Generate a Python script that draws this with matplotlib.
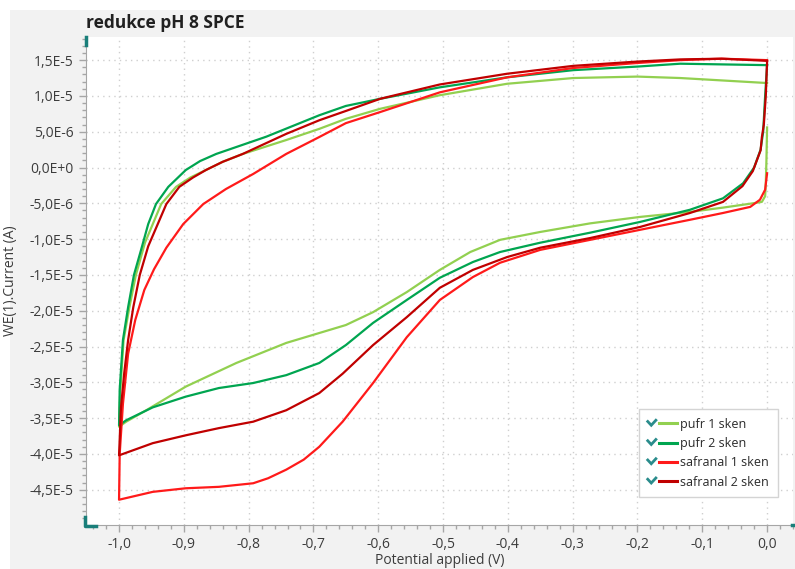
import numpy as np
import matplotlib
matplotlib.use("Agg")
import matplotlib.pyplot as plt
from matplotlib.ticker import MultipleLocator, FuncFormatter
from matplotlib.legend_handler import HandlerBase
from matplotlib.lines import Line2D
from matplotlib.patches import Rectangle

plt.rcParams['font.family'] = ['Open Sans', 'DejaVu Sans']

# cyclic voltammograms: cathodic branch 0 -> -1 V, then back -1 -> 0 V
pufr1_v = [0.0, -0.001, -0.002, -0.003, -0.008, -0.022, -0.068, -0.119, -0.196, -0.273,
           -0.350, -0.412, -0.458, -0.505, -0.556, -0.608, -0.650, -0.742, -0.819, -0.897,
           -0.958, -0.989, -1.0,
           -0.998, -0.993, -0.984, -0.974, -0.960, -0.935, -0.912, -0.890, -0.866, -0.840,
           -0.809, -0.742, -0.691, -0.650, -0.597, -0.505, -0.401, -0.299, -0.200, -0.134, 0.0]
pufr1_i = [5.6e-6, 1.0e-6, -2.2e-6, -4.0e-6, -4.8e-6, -5.0e-6, -5.6e-6, -6.2e-6, -6.9e-6, -7.8e-6,
           -9.0e-6, -1.01e-5, -1.18e-5, -1.43e-5, -1.74e-5, -2.02e-5, -2.2e-5, -2.45e-5, -2.73e-5, -3.06e-5,
           -3.39e-5, -3.55e-5, -3.62e-5,
           -3.1e-5, -2.41e-5, -1.95e-5, -1.5e-5, -1.05e-5, -5.1e-6, -2.7e-6, -1.4e-6, -0.35e-6, 0.8e-6,
           1.9e-6, 3.84e-6, 5.4e-6, 6.8e-6, 8.2e-6, 1.01e-5, 1.17e-5, 1.25e-5, 1.27e-5, 1.25e-5, 1.18e-5]

pufr2_v = [0.0, -0.003, -0.006, -0.010, -0.020, -0.037, -0.068, -0.119, -0.196, -0.273,
           -0.350, -0.412, -0.454, -0.505, -0.556, -0.608, -0.650, -0.691, -0.742, -0.793,
           -0.846, -0.897, -0.948, -0.989, -1.0,
           -0.999, -0.994, -0.986, -0.977, -0.966, -0.955, -0.943, -0.924, -0.897, -0.875,
           -0.850, -0.773, -0.691, -0.650, -0.597, -0.505, -0.401, -0.299, -0.200, -0.134, 0.0]
pufr2_i = [1.43e-5, 1.0e-5, 5.0e-6, 2.5e-6, 0.0, -2.2e-6, -4.3e-6, -5.9e-6, -7.6e-6, -9.1e-6,
           -1.05e-5, -1.18e-5, -1.32e-5, -1.54e-5, -1.85e-5, -2.17e-5, -2.48e-5, -2.73e-5, -2.9e-5, -3.01e-5,
           -3.08e-5, -3.2e-5, -3.35e-5, -3.53e-5, -3.6e-5,
           -3.1e-5, -2.41e-5, -1.95e-5, -1.5e-5, -1.15e-5, -7.9e-6, -5.1e-6, -2.7e-6, -0.35e-6, 0.9e-6,
           1.9e-6, 4.3e-6, 7.3e-6, 8.6e-6, 9.6e-6, 1.12e-5, 1.26e-5, 1.36e-5, 1.41e-5, 1.45e-5, 1.43e-5]

saf1_v = [0.0, -0.003, -0.011, -0.026, -0.068, -0.119, -0.196, -0.273, -0.350, -0.412,
          -0.454, -0.505, -0.556, -0.608, -0.655, -0.691, -0.715, -0.742, -0.770, -0.793,
          -0.846, -0.897, -0.948, -1.0,
          -0.999, -0.994, -0.986, -0.975, -0.961, -0.946, -0.927, -0.901, -0.870, -0.835,
          -0.793, -0.742, -0.691, -0.650, -0.597, -0.505, -0.401, -0.299, -0.200, -0.134,
          -0.070, 0.0]
saf1_i = [-0.8e-6, -3.1e-6, -4.5e-6, -5.5e-6, -6.35e-6, -7.3e-6, -8.7e-6, -1.01e-5, -1.15e-5, -1.33e-5,
          -1.53e-5, -1.85e-5, -2.37e-5, -3.01e-5, -3.55e-5, -3.9e-5, -4.08e-5, -4.22e-5, -4.34e-5, -4.41e-5,
          -4.46e-5, -4.48e-5, -4.53e-5, -4.64e-5,
          -4.0e-5, -3.3e-5, -2.6e-5, -2.13e-5, -1.71e-5, -1.42e-5, -1.12e-5, -7.9e-6, -5.1e-6, -3.0e-6,
          -0.9e-6, 1.9e-6, 4.26e-6, 6.2e-6, 7.75e-6, 1.05e-5, 1.26e-5, 1.39e-5, 1.46e-5, 1.50e-5,
          1.52e-5, 1.50e-5]

saf2_v = [0.0, -0.002, -0.005, -0.008, -0.010, -0.022, -0.038, -0.068, -0.119, -0.196,
          -0.273, -0.350, -0.401, -0.454, -0.505, -0.556, -0.608, -0.655, -0.691, -0.742,
          -0.793, -0.846, -0.897, -0.948, -1.0,
          -0.997, -0.992, -0.986, -0.978, -0.968, -0.955, -0.927, -0.907, -0.886, -0.866,
          -0.840, -0.809, -0.742, -0.691, -0.650, -0.597, -0.505, -0.401, -0.299, -0.200,
          -0.134, -0.070, 0.0]
saf2_i = [1.48e-5, 1.0e-5, 6.0e-6, 4.26e-6, 2.4e-6, -0.5e-6, -2.6e-6, -4.8e-6, -6.35e-6, -8.3e-6,
          -9.85e-6, -1.12e-5, -1.25e-5, -1.43e-5, -1.68e-5, -2.09e-5, -2.48e-5, -2.88e-5, -3.15e-5, -3.39e-5,
          -3.55e-5, -3.64e-5, -3.74e-5, -3.85e-5, -4.02e-5,
          -3.35e-5, -2.87e-5, -2.41e-5, -1.95e-5, -1.5e-5, -1.1e-5, -5.1e-6, -2.7e-6, -1.4e-6, -0.35e-6,
          0.8e-6, 1.9e-6, 4.7e-6, 6.6e-6, 7.9e-6, 9.6e-6, 1.16e-5, 1.31e-5, 1.42e-5, 1.48e-5,
          1.51e-5, 1.52e-5, 1.49e-5]

labels = ["pufr 1 sken", "pufr 2 sken", "safranal 1 sken", "safranal 2 sken"]
colors = ["#92d050", "#00a550", "#ff1a1a", "#c00000"]

W, H = 795, 569
fig = plt.figure(figsize=(7.95, 5.69), dpi=100, facecolor="white")
fig.add_artist(Rectangle((10 / W, 0), 1, 1 - 10 / H, transform=fig.transFigure,
                         facecolor="#f2f2f2", edgecolor="none", zorder=-10))
ax = fig.add_axes([86 / W, 1 - 525 / H, 707 / W, 488 / H])
ax.set_facecolor("white")

series = [(pufr1_v, pufr1_i), (pufr2_v, pufr2_i), (saf1_v, saf1_i), (saf2_v, saf2_i)]
for (v, i), lab, c in zip(series, labels, colors):
    ax.plot(v, i, color=c, lw=1.6, label=lab, solid_joinstyle="round")

ax.set_xlim(-1.051, 0.040)
ax.set_ylim(-4.993e-5, 1.823e-5)
ax.xaxis.set_major_locator(MultipleLocator(0.1))
ax.xaxis.set_minor_locator(MultipleLocator(0.02))
ax.yaxis.set_major_locator(MultipleLocator(5e-6))
ax.yaxis.set_minor_locator(MultipleLocator(1e-6))


def fmt_x(x, pos):
    return f"{round(x, 3) + 0.0:.1f}".replace(".", ",")


def fmt_y(y, pos):
    m, e = f"{y:.1E}".split("E")
    e = int(e)
    return f"{m.replace('.', ',')}E{'+' if e >= 0 else '-'}{abs(e)}"


ax.xaxis.set_major_formatter(FuncFormatter(fmt_x))
ax.yaxis.set_major_formatter(FuncFormatter(fmt_y))

ax.grid(True, which="major", color="#cfcfcf", linestyle=(0, (1, 3)), lw=1)
for s in ["top", "right"]:
    ax.spines[s].set_visible(False)
for s in ["left", "bottom"]:
    ax.spines[s].set_color("#a6a6a6")
ax.tick_params(which="major", length=5, width=1, color="#a6a6a6", labelsize=10,
               labelcolor="#3c3c3c", pad=4)
ax.tick_params(which="minor", length=3, width=1, color="#a6a6a6")

ax.set_xlabel("Potential applied (V)", fontsize=10, color="#3c3c3c")
ax.set_ylabel("WE(1).Current (A)", fontsize=10, color="#3c3c3c")
ax.xaxis.set_label_coords(0.5, -0.058)
ax.yaxis.set_label_coords(-0.096, 0.5)

fig.text(86 / W, 1 - 28 / H, "redukce pH 8 SPCE", fontsize=12.5, fontweight="bold",
         color="#202020", va="baseline", ha="left")


class CheckHandler(HandlerBase):
    def create_artists(self, legend, orig_handle, xdescent, ydescent, width, height,
                       fontsize, trans):
        x0 = -xdescent
        yc = height / 2 - ydescent
        ck = Line2D([x0 + 0.0 * fontsize, x0 + 0.28 * fontsize, x0 + 0.65 * fontsize],
                    [yc + 0.15 * fontsize, yc - 0.15 * fontsize, yc + 0.25 * fontsize],
                    color="#2a8c8c", lw=2, solid_joinstyle="miter", transform=trans)
        ln = Line2D([x0 + 0.9 * fontsize, x0 + width], [yc, yc],
                    color=orig_handle.get_color(), lw=2.2, transform=trans)
        return [ck, ln]


handles = ax.get_lines()
leg = ax.legend(handles, labels, handler_map={Line2D: CheckHandler()},
                loc="upper left", bbox_to_anchor=(639 / W, 1 - 409 / H),
                bbox_transform=fig.transFigure, borderaxespad=0, fontsize=9,
                handlelength=2.3, handletextpad=0.3, labelspacing=0.5, borderpad=0.7,
                fancybox=False, framealpha=1, edgecolor="#d4d4d4")
leg.get_frame().set_linewidth(1)
for t in leg.get_texts():
    t.set_color("#2a2a2a")

# teal axis handles
teal = "#1a7f7a"
fig.add_artist(Line2D([86 / W, 86 / W], [1 - 37 / H, 1 - 45 / H], color=teal, lw=2.5))
fig.add_artist(Line2D([85 / W, 85 / W, 96 / W], [1 - 517 / H, 1 - 526 / H, 1 - 526 / H],
                      color=teal, lw=2.5))
fig.add_artist(Line2D([792 / W, 795 / W], [1 - 525 / H, 1 - 525 / H], color=teal, lw=2.5))

fig.savefig("out.png", dpi=100, facecolor=fig.get_facecolor())
